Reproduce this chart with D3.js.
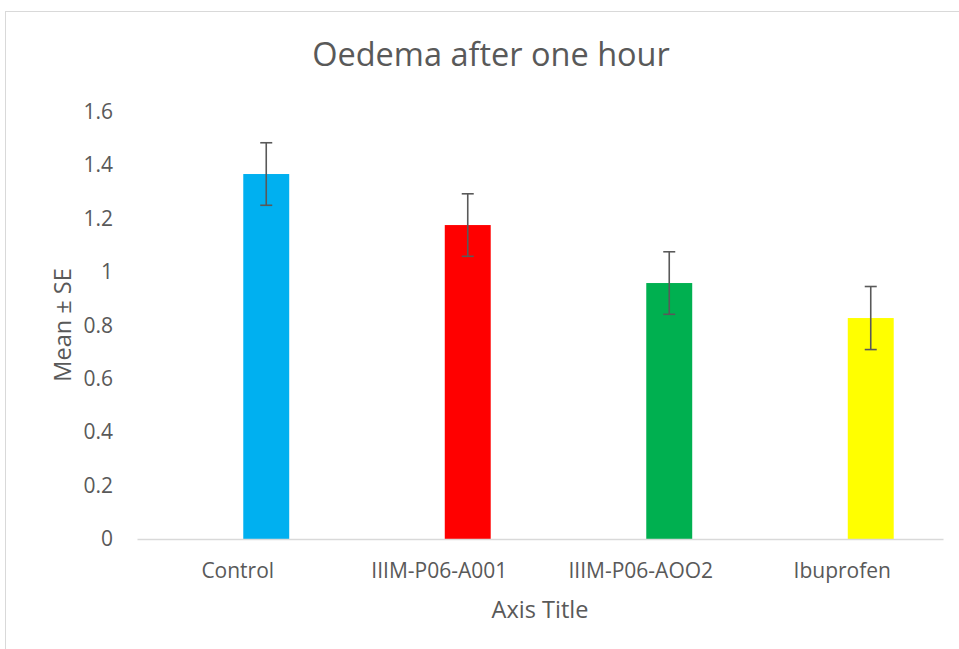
<!DOCTYPE html>
<html>
<head>
<meta charset="utf-8">
<script src="https://cdn.jsdelivr.net/npm/d3@7"></script>
<style>
  body { margin: 0; background: #fff; }
  text { font-family: "Open Sans", "Noto Sans", sans-serif; fill: #595959; }
</style>
</head>
<body>
<div id="chart"></div>
<script>
// data
const categories = ["Control", "IIIM-P06-A001", "IIIM-P06-AOO2", "Ibuprofen"];
const means = [1.366, 1.175, 0.958, 0.827];
const errors = [0.117, 0.117, 0.117, 0.118];
const barColors = ["#00b0f0", "#ff0000", "#00b050", "#ffff00"];
const yTicks = [0, 0.2, 0.4, 0.6, 0.8, 1, 1.2, 1.4, 1.6];

const width = 959, height = 649;
const margin = { top: 111.5, right: 16, bottom: 110, left: 137 };

const svg = d3.select("#chart").append("svg")
    .attr("width", width)
    .attr("height", height);

// chart frame
svg.append("rect")
    .attr("x", 5.5)
    .attr("y", 11.5)
    .attr("width", width)
    .attr("height", height)
    .attr("fill", "none")
    .attr("stroke", "#d9d9d9")
    .attr("stroke-width", 1);

const x = d3.scaleBand()
    .domain(categories)
    .range([margin.left, width - margin.right])
    .padding(0);

const y = d3.scaleLinear()
    .domain([0, 1.6])
    .range([height - margin.bottom, margin.top]);

// bars sit right of the category centre (empty first series in the original)
const barW = x.bandwidth() * 0.228;
const barShift = x.bandwidth() * 0.1414;
const barCenter = (c) => x(c) + x.bandwidth() / 2 + barShift;

svg.append("text")
    .attr("x", 491)
    .attr("y", 66)
    .attr("text-anchor", "middle")
    .style("font-size", "32.5px")
    .text("Oedema after one hour");

// y tick labels, no axis line
svg.append("g")
    .selectAll("text")
    .data(yTicks)
    .join("text")
    .attr("x", 113)
    .attr("y", d => y(d))
    .attr("dy", "0.35em")
    .attr("text-anchor", "end")
    .style("font-size", "21px")
    .text(d => d3.format("")(d));

svg.append("g")
    .selectAll("rect")
    .data(categories)
    .join("rect")
    .attr("x", d => barCenter(d) - barW / 2)
    .attr("y", (d, i) => y(means[i]))
    .attr("width", barW)
    .attr("height", (d, i) => y(0) - y(means[i]))
    .attr("fill", (d, i) => barColors[i]);

// x axis line
const xAxis = svg.append("g")
    .attr("transform", `translate(0,${y(0)})`)
    .call(d3.axisBottom(x).tickSize(0).tickPadding(24));
xAxis.select(".domain").attr("stroke", "#d9d9d9").attr("stroke-width", 1.5);
xAxis.selectAll("text")
    .style("font-size", "21px")
    .style("font-family", "\"Open Sans\", sans-serif")
    .attr("fill", "#595959");

// error bars
const errG = svg.append("g")
    .attr("stroke", "#595959")
    .attr("stroke-width", 1.6);

categories.forEach((c, i) => {
    const cx = barCenter(c);
    const top = y(means[i] + errors[i]);
    const bottom = y(means[i] - errors[i]);
    errG.append("line")
        .attr("x1", cx).attr("x2", cx)
        .attr("y1", top).attr("y2", bottom);
    [top, bottom].forEach(yy => {
        errG.append("line")
            .attr("x1", cx - 6).attr("x2", cx + 6)
            .attr("y1", yy).attr("y2", yy);
    });
});

svg.append("text")
    .attr("x", 540)
    .attr("y", 617.5)
    .attr("text-anchor", "middle")
    .style("font-size", "23.5px")
    .text("Axis Title");

svg.append("text")
    .attr("transform", "translate(71,325) rotate(-90)")
    .attr("text-anchor", "middle")
    .style("font-size", "23.5px")
    .text("Mean ± SE");
</script>
</body>
</html>
